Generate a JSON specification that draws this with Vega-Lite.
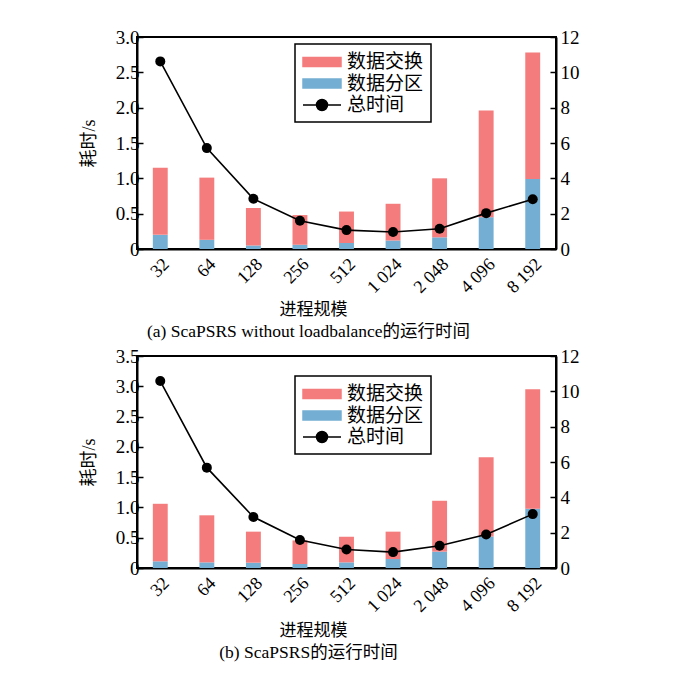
{
  "$schema": "https://vega.github.io/schema/vega-lite/v6.json",
  "padding": {"left": 79, "top": 27, "right": 5, "bottom": 5},
  "background": "white",
  "config": {
    "font": "Liberation Serif, Noto Sans CJK SC",
    "view": {"stroke": "black", "strokeWidth": 2},
    "axis": {"grid": false, "domainColor": "black", "domainWidth": 2, "tickColor": "black", "tickWidth": 1.5, "labelColor": "black", "titleColor": "black", "labelFont": "Liberation Serif, Noto Sans CJK SC", "titleFont": "Liberation Serif, Noto Sans CJK SC", "labelFontSize": 18, "titleFontSize": 18, "titleFontWeight": "normal"},
    "legend": {"labelFont": "Liberation Serif, Noto Sans CJK SC", "labelFontSize": 19, "labelColor": "black"},
    "title": {"font": "Liberation Serif, Noto Sans CJK SC", "fontSize": 17.5, "fontWeight": "normal", "color": "black"}
  },
  "datasets": {
    "a": [
      {"procs": "32", "数据分区": 0.20, "数据交换": 0.95, "总时间": 10.62},
      {"procs": "64", "数据分区": 0.13, "数据交换": 0.88, "总时间": 5.71},
      {"procs": "128", "数据分区": 0.05, "数据交换": 0.53, "总时间": 2.84},
      {"procs": "256", "数据分区": 0.06, "数据交换": 0.42, "总时间": 1.60},
      {"procs": "512", "数据分区": 0.085, "数据交换": 0.445, "总时间": 1.07},
      {"procs": "1 024", "数据分区": 0.12, "数据交换": 0.52, "总时间": 0.96},
      {"procs": "2 048", "数据分区": 0.165, "数据交换": 0.835, "总时间": 1.15},
      {"procs": "4 096", "数据分区": 0.45, "数据交换": 1.51, "总时间": 2.03},
      {"procs": "8 192", "数据分区": 0.99, "数据交换": 1.79, "总时间": 2.82}
    ],
    "b": [
      {"procs": "32", "数据分区": 0.11, "数据交换": 0.95, "总时间": 10.58},
      {"procs": "64", "数据分区": 0.093, "数据交换": 0.777, "总时间": 5.68},
      {"procs": "128", "数据分区": 0.088, "数据交换": 0.512, "总时间": 2.89},
      {"procs": "256", "数据分区": 0.066, "数据交换": 0.389, "总时间": 1.58},
      {"procs": "512", "数据分区": 0.093, "数据交换": 0.423, "总时间": 1.05},
      {"procs": "1 024", "数据分区": 0.148, "数据交换": 0.452, "总时间": 0.90},
      {"procs": "2 048", "数据分区": 0.27, "数据交换": 0.84, "总时间": 1.26},
      {"procs": "4 096", "数据分区": 0.52, "数据交换": 1.31, "总时间": 1.90},
      {"procs": "8 192", "数据分区": 0.98, "数据交换": 1.97, "总时间": 3.05}
    ]
  },
  "resolve": {"scale": {"color": "independent"}, "legend": {"color": "independent"}},
  "spacing": 4,
  "vconcat": [
    {
      "width": 419,
      "height": 212,
      "data": {"name": "a"},
      "title": {"text": "(a)  ScaPSRS without loadbalance的运行时间", "orient": "bottom", "anchor": "middle", "dx": -38, "offset": 6},
      "layer": [
        {
          "transform": [{"fold": ["数据分区", "数据交换"], "as": ["series", "value"]}],
          "mark": {"type": "bar"},
          "encoding": {
            "x": {"field": "procs", "type": "nominal", "sort": null, "scale": {"paddingInner": 0.68, "paddingOuter": 0.34}, "axis": {"title": "进程规模", "titleFontSize": 17, "labelAngle": -45, "ticks": false, "labelPadding": 6, "titlePadding": 5, "titleX": 176}},
            "y": {"field": "value", "type": "quantitative", "stack": "zero", "scale": {"domain": [0, 3]}, "axis": {"title": "耗时/s", "values": [0, 0.5, 1, 1.5, 2, 2.5, 3], "labelFontSize": 19, "labelExpr": "datum.value === 0 ? '0' : format(datum.value, '.1f')", "tickSize": -6, "labelPadding": 4, "titlePadding": 17}},
            "color": {"field": "series", "type": "nominal", "scale": {"domain": ["数据交换", "数据分区", "总时间"], "range": ["#F47C7C", "#74AFD3", "#000000"]},
              "legend": {"title": null, "orient": "none", "legendX": 158, "legendY": 7, "strokeColor": "black", "fillColor": "white", "padding": 7, "symbolSize": 400, "labelOffset": 23, "rowPadding": 0.5,
                "encode": {
                  "legend": {"update": {"strokeWidth": {"value": 1.5}}},
                  "symbols": {"update": {
                  "shape": {"signal": "datum.value === '总时间' ? 'M-1,0H2.8M0.35,0A0.55,0.55,0,1,1,1.45,0A0.55,0.55,0,1,1,0.35,0Z' : 'M-1,-0.45H2.8V0.45H-1Z'"},
                  "fill": {"signal": "datum.value === '数据交换' ? '#F47C7C' : datum.value === '数据分区' ? '#74AFD3' : 'black'"},
                  "stroke": {"signal": "datum.value === '总时间' ? 'black' : 'transparent'"},
                  "strokeWidth": {"value": 1.5},
                  "opacity": {"value": 1},
                  "fillOpacity": {"value": 1}
                }}}}},
            "order": {"field": "series", "sort": "descending"}
          }
        },
        {
          "mark": {"type": "line", "strokeWidth": 1.6, "point": {"filled": true, "size": 100, "opacity": 1}},
          "encoding": {
            "x": {"field": "procs", "type": "nominal", "sort": null},
            "y": {"field": "总时间", "type": "quantitative", "scale": {"domain": [0, 12]}, "axis": {"orient": "right", "title": null, "values": [0, 2, 4, 6, 8, 10, 12], "labelFontSize": 19, "tickSize": -6, "labelPadding": 10}},
            "color": {"datum": "总时间"}
          }
        }
      ],
      "resolve": {"scale": {"y": "independent"}}
    },
    {
      "width": 419,
      "height": 212,
      "data": {"name": "b"},
      "title": {"text": "(b)  ScaPSRS的运行时间", "orient": "bottom", "anchor": "middle", "dx": -38, "offset": 6},
      "layer": [
        {
          "transform": [{"fold": ["数据分区", "数据交换"], "as": ["series", "value"]}],
          "mark": {"type": "bar"},
          "encoding": {
            "x": {"field": "procs", "type": "nominal", "sort": null, "scale": {"paddingInner": 0.68, "paddingOuter": 0.34}, "axis": {"title": "进程规模", "titleFontSize": 17, "labelAngle": -45, "ticks": false, "labelPadding": 6, "titlePadding": 7, "titleX": 176}},
            "y": {"field": "value", "type": "quantitative", "stack": "zero", "scale": {"domain": [0, 3.5]}, "axis": {"title": "耗时/s", "values": [0, 0.5, 1, 1.5, 2, 2.5, 3, 3.5], "labelFontSize": 19, "labelExpr": "datum.value === 0 ? '0' : format(datum.value, '.1f')", "tickSize": -6, "labelPadding": 4, "titlePadding": 17}},
            "color": {"field": "series", "type": "nominal", "scale": {"domain": ["数据交换", "数据分区", "总时间"], "range": ["#F47C7C", "#74AFD3", "#000000"]},
              "legend": {"title": null, "orient": "none", "legendX": 158, "legendY": 20, "strokeColor": "black", "fillColor": "white", "padding": 7, "symbolSize": 400, "labelOffset": 23, "rowPadding": 0.5,
                "encode": {
                  "legend": {"update": {"strokeWidth": {"value": 1.5}}},
                  "symbols": {"update": {
                  "shape": {"signal": "datum.value === '总时间' ? 'M-1,0H2.8M0.35,0A0.55,0.55,0,1,1,1.45,0A0.55,0.55,0,1,1,0.35,0Z' : 'M-1,-0.45H2.8V0.45H-1Z'"},
                  "fill": {"signal": "datum.value === '数据交换' ? '#F47C7C' : datum.value === '数据分区' ? '#74AFD3' : 'black'"},
                  "stroke": {"signal": "datum.value === '总时间' ? 'black' : 'transparent'"},
                  "strokeWidth": {"value": 1.5},
                  "opacity": {"value": 1},
                  "fillOpacity": {"value": 1}
                }}}}},
            "order": {"field": "series", "sort": "descending"}
          }
        },
        {
          "mark": {"type": "line", "strokeWidth": 1.6, "point": {"filled": true, "size": 100, "opacity": 1}},
          "encoding": {
            "x": {"field": "procs", "type": "nominal", "sort": null},
            "y": {"field": "总时间", "type": "quantitative", "scale": {"domain": [0, 12]}, "axis": {"orient": "right", "title": null, "values": [0, 2, 4, 6, 8, 10, 12], "labelFontSize": 19, "tickSize": -6, "labelPadding": 10}},
            "color": {"datum": "总时间"}
          }
        }
      ],
      "resolve": {"scale": {"y": "independent"}}
    }
  ]
}
